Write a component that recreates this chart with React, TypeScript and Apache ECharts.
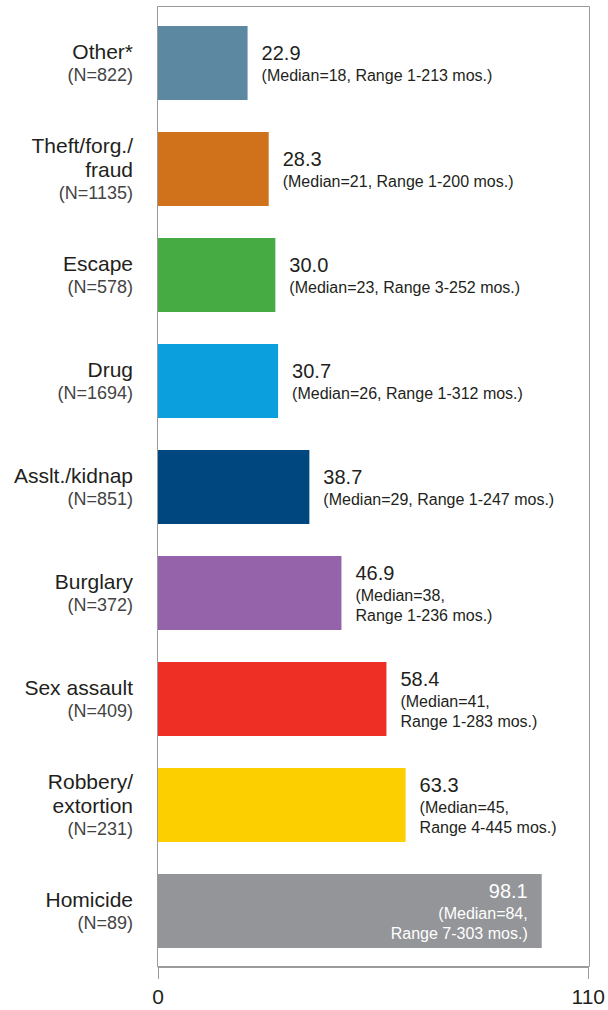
import React, { useEffect, useRef } from "react";
import * as echarts from "echarts";

const categories = [
  "Other*",
  "Theft/forg./\nfraud",
  "Escape",
  "Drug",
  "Asslt./kidnap",
  "Burglary",
  "Sex assault",
  "Robbery/\nextortion",
  "Homicide",
];
const counts = ["(N=822)", "(N=1135)", "(N=578)", "(N=1694)", "(N=851)", "(N=372)", "(N=409)", "(N=231)", "(N=89)"];
const values = [22.9, 28.3, 30.0, 30.7, 38.7, 46.9, 58.4, 63.3, 98.1];
const notes = [
  "(Median=18, Range 1-213 mos.)",
  "(Median=21, Range 1-200 mos.)",
  "(Median=23, Range 3-252 mos.)",
  "(Median=26, Range 1-312 mos.)",
  "(Median=29, Range 1-247 mos.)",
  "(Median=38,\nRange 1-236 mos.)",
  "(Median=41,\nRange 1-283 mos.)",
  "(Median=45,\nRange 4-445 mos.)",
  "(Median=84,\nRange 7-303 mos.)",
];
const colors = ["#5C88A1", "#D0711B", "#46AB43", "#0B9FDD", "#00467F", "#9563A9", "#EE2F25", "#FCD000", "#939598"];
const insideIndex = [8];

const FONT = "'Liberation Sans', Arial, Helvetica, sans-serif";

export default function App() {
  const ref = useRef<HTMLDivElement>(null);
  useEffect(() => {
    if (!ref.current) return;
    const chart = echarts.init(ref.current, null, { renderer: "svg" });
    const labelText = (i: number) =>
      `{v|${values[i].toFixed(1)}}\n` + notes[i].split("\n").map((s) => `{m|${s}}`).join("\n");
    const richFor = (align: string, color: string) => ({
      v: { fontSize: 20, lineHeight: 25, color, align, fontFamily: FONT },
      m: { fontSize: 16, lineHeight: 20, color, align, fontFamily: FONT },
    });
    const data = values.map((v, i) => {
      const inside = insideIndex.includes(i);
      return {
        value: v,
        itemStyle: { color: colors[i] },
        label: inside
          ? {
              show: true,
              position: "insideRight",
              distance: 14,
              formatter: () => labelText(i),
              rich: richFor("right", "#ffffff"),
            }
          : {
              show: true,
              position: "right",
              distance: 14,
              formatter: () => labelText(i),
              rich: richFor("left", "#231F20"),
            },
      };
    });
    chart.setOption({
      animation: false,
      backgroundColor: "#ffffff",
      textStyle: { fontFamily: FONT },
      grid: { left: 158, right: 18, top: 10, bottom: 46, containLabel: false },
      xAxis: {
        type: "value",
        min: 0,
        max: 110,
        interval: 110,
        offset: 3,
        axisLine: { show: true, lineStyle: { color: "#9a9a9a", width: 1 } },
        axisTick: { show: true, length: 12, lineStyle: { color: "#9a9a9a" } },
        splitLine: { show: false },
        axisLabel: { color: "#231F20", fontSize: 21, margin: 19, fontFamily: FONT },
      },
      yAxis: {
        type: "category",
        inverse: true,
        data: categories,
        axisLine: { show: false },
        axisTick: { show: false },
        splitLine: { show: false },
        axisLabel: {
          margin: 25,
          align: "right",
          formatter: (value: string, index: number) =>
            value.split("\n").map((s) => `{a|${s}}`).join("\n") + `\n{b|${counts[index]}}`,
          rich: {
            a: { fontSize: 21, lineHeight: 24, color: "#231F20", fontFamily: FONT, align: "right" },
            b: { fontSize: 18, lineHeight: 23, color: "#444444", fontFamily: FONT, align: "right" },
          },
        },
      },
      graphic: [
        {
          type: "rect",
          shape: { x: 157.5, y: 6.5, width: 432, height: 960 },
          style: { fill: "none", stroke: "#9a9a9a", lineWidth: 1 },
          silent: true,
          z: 0,
        },
      ],
      series: [
        {
          type: "bar",
          data,
          barWidth: 74,
          z: 2,
        },
      ],
    });
    return () => chart.dispose();
  }, []);
  return (
    <div
      ref={ref}
      style={{ position: "fixed", left: 0, top: 0, width: 608, height: 1010 }}
    />
  );
}
